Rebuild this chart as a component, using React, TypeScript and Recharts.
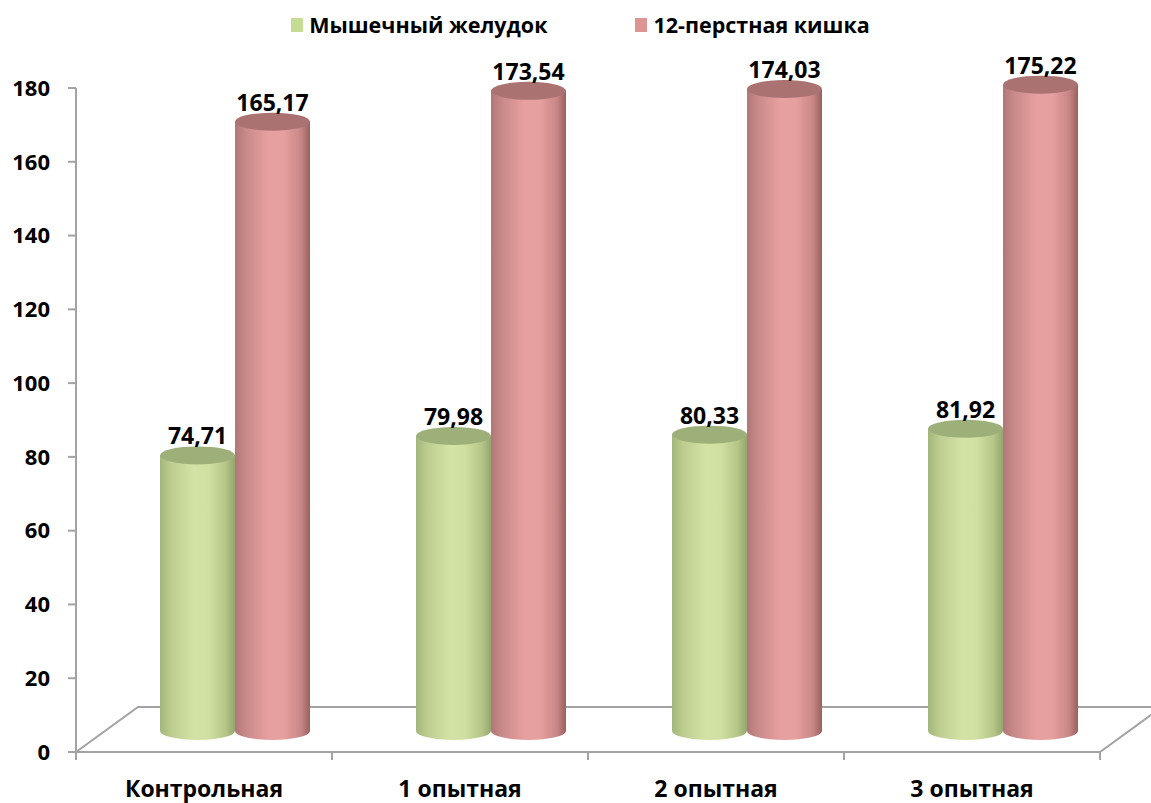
import { BarChart, Bar, XAxis, YAxis, LabelList, Customized } from "recharts";

const categories = ["Контрольная", "1 опытная", "2 опытная", "3 опытная"];
const stomach = [74.71, 79.98, 80.33, 81.92];
const duodenum = [165.17, 173.54, 174.03, 175.22];
const yTicks = [0, 20, 40, 60, 80, 100, 120, 140, 160, 180];

const data = categories.map((name, i) => ({ name, stomach: stomach[i], duodenum: duodenum[i] }));

const W = 1151;
const H = 803;
const X_AXIS_H = 51;
const M = { top: 88, right: 51, bottom: 0, left: 0 };
const AXIS_W = 76;
// bars stand halfway into the floor's depth
const DEPTH_X = 62;
const DEPTH_Y = 45;
const SHIFT_X = 31;
const SHIFT_Y = -21;
const FONT = "'Open Sans', sans-serif";
const GRID = "#a3a3a3";

const palette = {
  stomach: {
    stops: ["#a4b67c", "#bccd8f", "#d3e3a5", "#d0e0a1", "#b4c587", "#94a66e"],
    top: "#9eb07a",
    legend: "#c5dc95",
  },
  duodenum: {
    stops: ["#b07776", "#c98a89", "#e7a09f", "#e6a09f", "#c78685", "#98615f"],
    top: "#aa7372",
    legend: "#dc9593",
  },
};

const fmt = (v: number) => v.toFixed(2).replace(".", ",");

function makeCylinder(key: "stomach" | "duodenum") {
  const p = palette[key];
  return (props: any) => {
    const { x, y, width, height } = props;
    const left = x + SHIFT_X;
    const right = left + width;
    const top = y + SHIFT_Y;
    const bottom = y + height + SHIFT_Y;
    const rx = width / 2;
    const ry = 9;
    const gid = `cyl-${key}`;
    return (
      <g>
        <defs>
          <linearGradient id={gid} x1="0" y1="0" x2="1" y2="0">
            <stop offset="0" stopColor={p.stops[0]} />
            <stop offset="0.15" stopColor={p.stops[1]} />
            <stop offset="0.45" stopColor={p.stops[2]} />
            <stop offset="0.65" stopColor={p.stops[3]} />
            <stop offset="0.88" stopColor={p.stops[4]} />
            <stop offset="1" stopColor={p.stops[5]} />
          </linearGradient>
        </defs>
        <path
          d={`M${left},${top} L${left},${bottom} A${rx},${ry} 0 0 0 ${right},${bottom} L${right},${top} Z`}
          fill={`url(#${gid})`}
        />
        <ellipse cx={left + rx} cy={top} rx={rx} ry={ry} fill={p.top} />
      </g>
    );
  };
}

const ValueLabel = (props: any) => {
  const { x, y, width, value } = props;
  return (
    <text
      x={x + width / 2 + SHIFT_X}
      y={y + SHIFT_Y - 11}
      textAnchor="middle"
      fontFamily={FONT}
      fontWeight={700}
      fontSize={23}
      fill="#000"
    >
      {fmt(value)}
    </text>
  );
};

// floor parallelogram and category separators on the front edge
const Floor = () => {
  const x0 = AXIS_W;
  const x1 = W - M.right;
  const yf = H - X_AXIS_H;
  const step = (x1 - x0) / categories.length;
  return (
    <g stroke={GRID} strokeWidth={2} fill="none">
      <path
        d={`M${x0},${yf} L${x0 + DEPTH_X},${yf - DEPTH_Y} L${x1 + DEPTH_X},${yf - DEPTH_Y} L${x1},${yf} Z`}
      />
      {categories.map((_, i) => (
        <line key={i} x1={x0 + step * (i + 1)} x2={x0 + step * (i + 1)} y1={yf} y2={yf + 8} />
      ))}
      <line x1={x0} x2={x0} y1={yf} y2={yf + 8} />
    </g>
  );
};

const Legend = () => (
  <div
    style={{
      position: "absolute",
      top: 10,
      left: 0,
      width: W,
      paddingLeft: 10,
      boxSizing: "border-box",
      display: "flex",
      justifyContent: "center",
      gap: 88,
      fontFamily: FONT,
      fontWeight: 700,
      fontSize: 21.5,
      color: "#000",
    }}
  >
    {[
      { label: "Мышечный желудок", color: palette.stomach.legend },
      { label: "12-перстная кишка", color: palette.duodenum.legend },
    ].map((it) => (
      <div key={it.label} style={{ display: "flex", alignItems: "center", gap: 6 }}>
        <span style={{ width: 12, height: 14, background: it.color, display: "inline-block" }} />
        <span>{it.label}</span>
      </div>
    ))}
  </div>
);

export default function App() {
  return (
    <div style={{ position: "absolute", left: 0, top: 0, width: W, height: H, background: "#fff", overflow: "hidden" }}>
      <Legend />
      <BarChart width={W} height={H} data={data} margin={M} barGap={0} barSize={75}>
        <Customized component={<Floor />} />
        <XAxis
          dataKey="name"
          height={X_AXIS_H}
          axisLine={false}
          tickLine={false}
          tickMargin={23}
          tick={{ fontFamily: FONT, fontWeight: 700, fontSize: 23, fill: "#000" }}
          interval={0}
        />
        <YAxis
          width={AXIS_W}
          domain={[0, 180]}
          ticks={yTicks}
          interval={0}
          axisLine={{ stroke: GRID, strokeWidth: 2 }}
          tickLine={{ stroke: GRID, strokeWidth: 2 }}
          tickSize={8}
          tickMargin={18}
          tick={{ fontFamily: FONT, fontWeight: 700, fontSize: 22, fill: "#000" }}
        />
        <Bar dataKey="stomach" isAnimationActive={false} shape={makeCylinder("stomach")}>
          <LabelList dataKey="stomach" content={<ValueLabel />} />
        </Bar>
        <Bar dataKey="duodenum" isAnimationActive={false} shape={makeCylinder("duodenum")}>
          <LabelList dataKey="duodenum" content={<ValueLabel />} />
        </Bar>
      </BarChart>
    </div>
  );
}
